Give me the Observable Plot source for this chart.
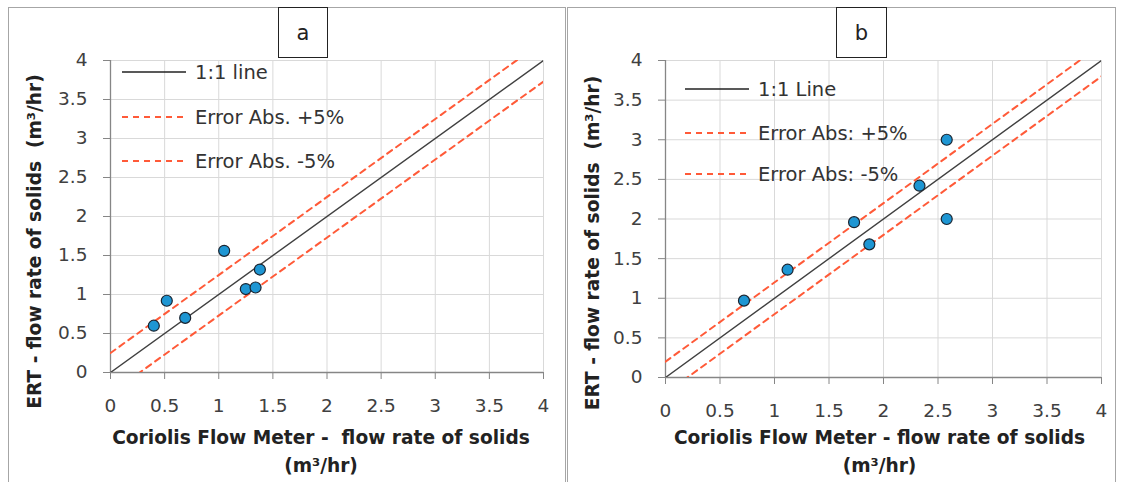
<!DOCTYPE html>
<html>
<head>
<meta charset="utf-8">
<script src="https://cdn.jsdelivr.net/npm/d3@7"></script>
<script src="https://cdn.jsdelivr.net/npm/@observablehq/plot@0.6"></script>
<style>
  html, body { margin: 0; padding: 0; background: #fff; }
  #wrap { position: relative; width: 1121px; height: 482px; overflow: hidden; font-family: "DejaVu Sans", sans-serif; }
  .panel { position: absolute; border: 1px solid #a6a6a6; background: #fff; }
  .plot { position: absolute; top: 0; }
  .tag { position: absolute; box-sizing: border-box; border: 1.5px solid #222; background: #fff;
         font-size: 21px; color: #222; display: flex; align-items: center; justify-content: center; }
  .legend { position: absolute; font-size: 19.5px; color: #333; }
  .legend .row { position: absolute; display: flex; align-items: center; white-space: nowrap; height: 24px; }
  .legend svg { display: block; }
</style>
</head>
<body>
<div id="wrap"></div>
<script>
// ---- data ----
const ticks = [0, 0.5, 1, 1.5, 2, 2.5, 3, 3.5, 4];
const tickLabels = ["0", "0.5", "1", "1.5", "2", "2.5", "3", "3.5", "4"];

// panel a
const aCoriolis = [0.40, 0.52, 0.69, 1.05, 1.25, 1.34, 1.38];
const aERT      = [0.60, 0.92, 0.70, 1.56, 1.07, 1.09, 1.32];
const aLineX    = [0, 4];
const aOneToOne = [0, 4];
const aUpper    = [0.25, 4.25];
const aLower    = [-0.27, 3.73];
const aLegend   = ["1:1 line", "Error Abs. +5%", "Error Abs. -5%"];

// panel b
const bCoriolis = [0.72, 1.12, 1.73, 1.87, 2.33, 2.58, 2.58];
const bERT      = [0.97, 1.36, 1.96, 1.68, 2.42, 3.00, 2.00];
const bLineX    = [0, 4];
const bOneToOne = [0, 4];
const bUpper    = [0.20, 4.20];
const bLower    = [-0.20, 3.80];
const bLegend   = ["1:1 Line", "Error Abs: +5%", "Error Abs: -5%"];

const xTitleA = "Coriolis Flow Meter -  flow rate of solids\n(m³/hr)";
const xTitleB = "Coriolis Flow Meter - flow rate of solids\n(m³/hr)";
const yTitle  = "ERT - flow rate of solids  (m³/hr)";

const FONT = "'DejaVu Sans', sans-serif";
const RED = "#ff5a38", AXIS = "#868686", GRID = "#d9d9d9", DOT = "#1e96d3";

function makePlot(cfg) {
  const pts = cfg.xs.map((x, i) => ({x, y: cfg.ys[i]}));
  const line = (ys) => cfg.lx.map((x, i) => ({x, y: ys[i]}));
  return Plot.plot({
    width: cfg.width, height: 482,
    marginLeft: cfg.ml, marginRight: cfg.mr, marginTop: 60, marginBottom: cfg.mb,
    style: {fontFamily: FONT, fontSize: "18px", color: "#404040", background: "transparent", overflow: "visible"},
    x: {domain: [0, 4]},
    y: {domain: [0, 4]},
    marks: [
      Plot.gridX(ticks, {stroke: GRID, strokeOpacity: 1}),
      Plot.gridY(ticks, {stroke: GRID, strokeOpacity: 1}),
      Plot.axisX(ticks, {tickSize: 7, tickPadding: 19, stroke: AXIS, fill: "#404040", fontSize: 18.5,
        tickFormat: (d, i) => tickLabels[i], label: null}),
      Plot.axisY(ticks, {tickSize: 7, tickPadding: 16, stroke: AXIS, fill: "#404040", fontSize: 18.5,
        tickFormat: (d, i) => tickLabels[i], label: null}),
      Plot.ruleX([0], {stroke: AXIS, strokeWidth: 1.3}),
      Plot.ruleY([0], {stroke: AXIS, strokeWidth: 1.3}),
      Plot.line(line(cfg.upper), {x: "x", y: "y", stroke: RED, strokeWidth: 2, strokeDasharray: "6,5", clip: true}),
      Plot.line(line(cfg.lower), {x: "x", y: "y", stroke: RED, strokeWidth: 2, strokeDasharray: "6,5", clip: true}),
      Plot.line(line(cfg.one), {x: "x", y: "y", stroke: "#404040", strokeWidth: 1.4, clip: true}),
      Plot.dot(pts, {x: "x", y: "y", r: 5.5, fill: DOT, stroke: "#1a2430", strokeWidth: 1.2}),
      Plot.text([cfg.xTitle], {frameAnchor: "bottom", textAnchor: "middle", lineAnchor: "middle",
        dx: cfg.xdx, dy: cfg.xdy, fontWeight: "bold", fill: "#222", fontSize: 18.6, lineHeight: 1.5}),
      Plot.text([yTitle], {frameAnchor: "left", textAnchor: "middle", lineAnchor: "middle", rotate: -90,
        dx: cfg.ydx, dy: cfg.ydy, fontWeight: "bold", fill: "#222", fontSize: 18.6})
    ]
  });
}

function legend(labels, left, tops) {
  const div = document.createElement("div");
  div.className = "legend";
  div.style.left = "0px"; div.style.top = "0px";
  labels.forEach((lab, i) => {
    const row = document.createElement("div");
    row.className = "row";
    row.style.left = left + "px";
    row.style.top = (tops[i] - 12) + "px";
    const dash = i === 0 ? "" : `stroke-dasharray="6,5"`;
    const col = i === 0 ? "#222" : RED;
    const sw = i === 0 ? 1.6 : 2;
    row.innerHTML = `<svg width="64" height="24"><line x1="0" x2="64" y1="12" y2="12" stroke="${col}" stroke-width="${sw}" ${dash}/></svg><span style="margin-left:9px">${lab}</span>`;
    div.appendChild(row);
  });
  return div;
}

const wrap = document.getElementById("wrap");

// panel frames
const pa = document.createElement("div"); pa.className = "panel";
Object.assign(pa.style, {left: "8px", top: "7px", width: "556px", height: "490px"});
const pb = document.createElement("div"); pb.className = "panel";
Object.assign(pb.style, {left: "567px", top: "7px", width: "547px", height: "490px"});
wrap.append(pa, pb);

const plotA = makePlot({xs: aCoriolis, ys: aERT, lx: aLineX, one: aOneToOne, upper: aUpper, lower: aLower,
  width: 560, ml: 110, mr: 17, mb: 110, xTitle: xTitleA, xdx: -6, xdy: 77, ydx: -75, ydy: 25});
plotA.classList.add("plot"); plotA.style.left = "0px";
const plotB = makePlot({xs: bCoriolis, ys: bERT, lx: bLineX, one: bOneToOne, upper: bUpper, lower: bLower,
  width: 561, ml: 105, mr: 20, mb: 105, xTitle: xTitleB, xdx: -4, xdy: 72, ydx: -72, ydy: 24});
plotB.classList.add("plot"); plotB.style.left = "560px";
wrap.append(plotA, plotB);

wrap.append(legend(aLegend, 122, [72, 117, 161]));
wrap.append(legend(bLegend, 685, [89, 133, 174]));

const ta = document.createElement("div"); ta.className = "tag"; ta.textContent = "a";
Object.assign(ta.style, {left: "278px", top: "7px", width: "50px", height: "51px"});
const tb = document.createElement("div"); tb.className = "tag"; tb.textContent = "b";
Object.assign(tb.style, {left: "836px", top: "7px", width: "51px", height: "51px"});
wrap.append(ta, tb);
</script>
</body>
</html>
